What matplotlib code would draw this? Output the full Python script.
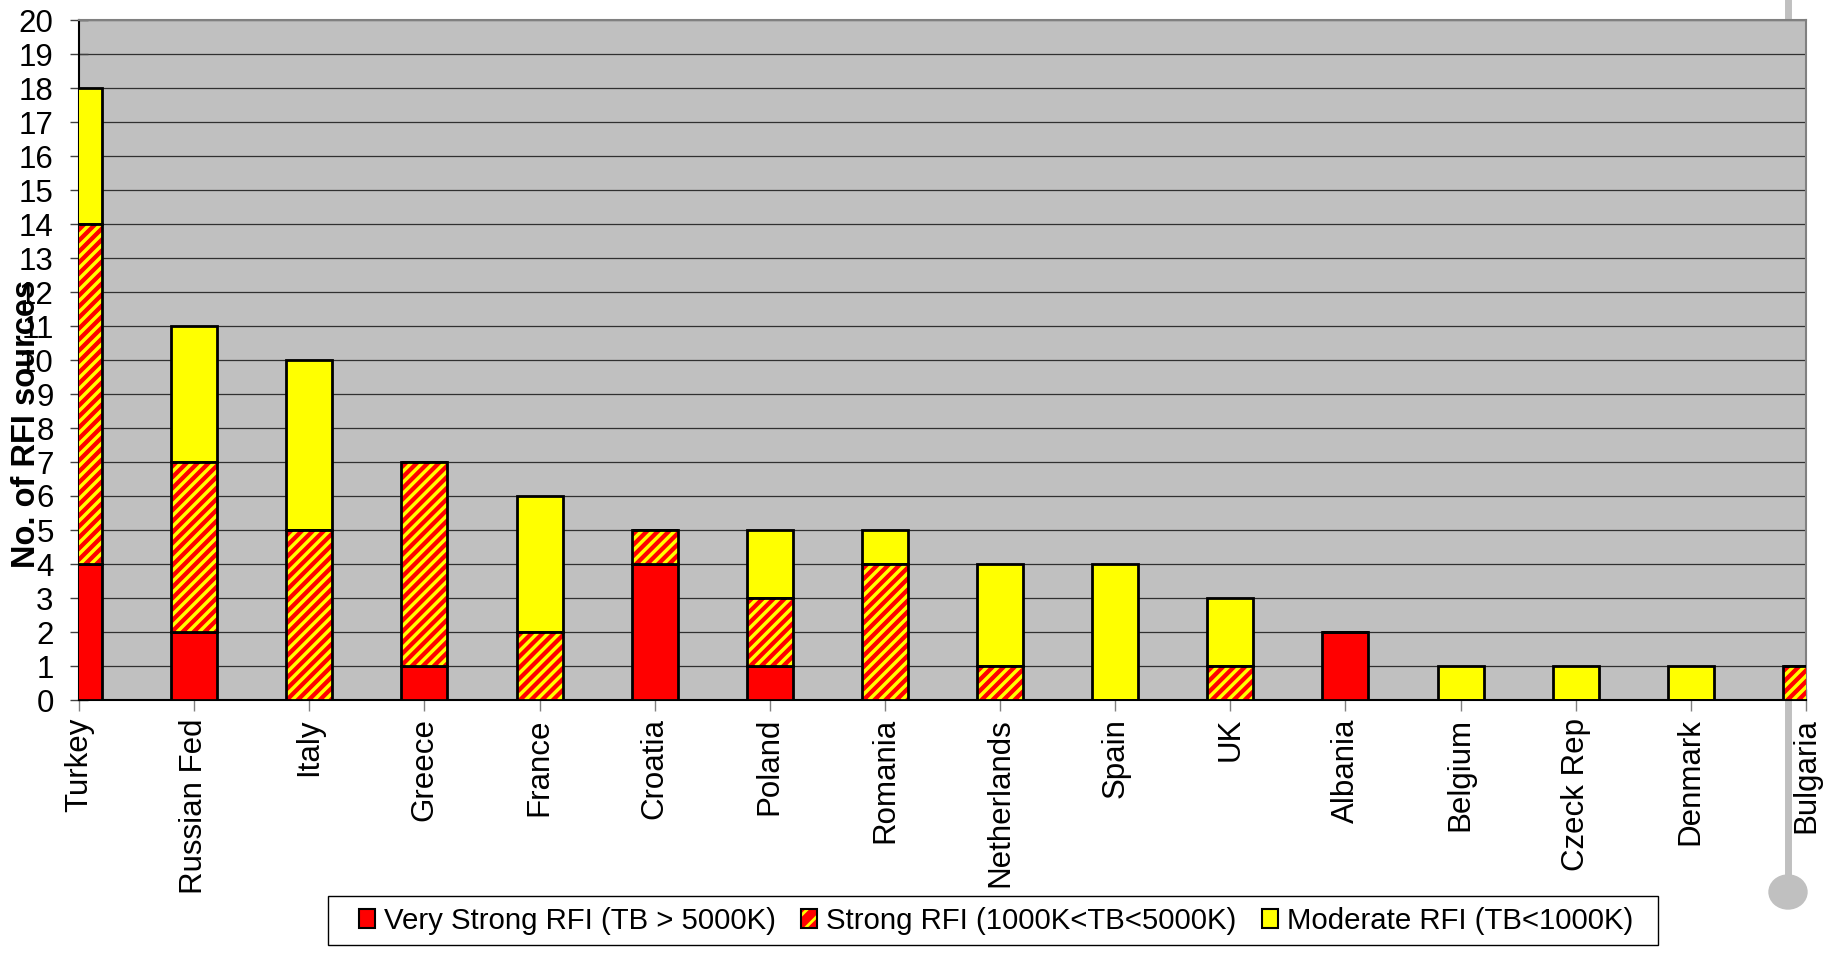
import matplotlib
matplotlib.use("Agg")
import numpy as np
from matplotlib import pyplot as plt
from matplotlib.patches import Patch, Ellipse, Rectangle
from matplotlib.lines import Line2D
from matplotlib.collections import LineCollection

# RFI sources per country, split by strength
countries = ["Turkey", "Russian Fed", "Italy", "Greece", "France", "Croatia",
             "Poland", "Romania", "Netherlands", "Spain", "UK", "Albania",
             "Belgium", "Czeck Rep", "Denmark", "Bulgaria"]
very_strong = [4, 2, 0, 1, 0, 4, 1, 0, 0, 0, 0, 2, 0, 0, 0, 0]
strong = [10, 5, 5, 6, 2, 1, 2, 4, 1, 0, 1, 0, 0, 0, 0, 1]
moderate = [4, 4, 5, 0, 4, 0, 2, 1, 3, 4, 2, 0, 1, 1, 1, 0]
legend_labels = ["Very Strong RFI (TB > 5000K)",
                 "Strong RFI (1000K<TB<5000K)",
                 "Moderate RFI (TB<1000K)"]

RED = "#FF0000"
YELLOW = "#FFFF00"
FONT = "Liberation Sans"
FS = 22.5
STRIPE_PX = 11     # stripe period, pixels
STRIPE_LW = 2.5    # yellow stripe width, points

plt.rcParams["font.family"] = [FONT, "DejaVu Sans"]
plt.rcParams["hatch.linewidth"] = 2.0

W, H = 1829, 976
fig = plt.figure(figsize=(W / 100, H / 100), dpi=100)
ax = fig.add_axes([79 / W, 1 - 700 / H, (1806 - 79) / W, 680 / H])
ax.set_facecolor("#C0C0C0")
xmax = len(countries) - 1
ax.set_xlim(0, xmax)
ax.set_ylim(0, 20)

x = np.arange(len(countries))
vs = np.array(very_strong)
st = np.array(strong)
md = np.array(moderate)
bw = 0.4

ax.bar(x, vs, bw, color=RED, edgecolor="black", linewidth=2, zorder=3)
ax.bar(x, st, bw, bottom=vs, color=RED, linewidth=0, zorder=3)
ax.bar(x, st, bw, bottom=vs, fill=False, edgecolor="black", linewidth=2, zorder=4)
ax.bar(x, md, bw, bottom=vs + st, color=YELLOW, edgecolor="black",
       linewidth=2, zorder=3)

# yellow diagonal stripes on the "strong" segments (45 deg on screen)
bb = ax.get_window_extent()
sx = bb.width / xmax
sy = bb.height / 20
for xi, b, h in zip(x, vs, st):
    if h == 0:
        continue
    left = max(xi - bw / 2, 0)
    right = min(xi + bw / 2, xmax)
    x0, x1 = left * sx, right * sx
    y0, y1 = b * sy, (b + h) * sy
    ks = np.arange(x0 - y1 - STRIPE_PX, x1 - y0 + STRIPE_PX, STRIPE_PX)
    segs = [[((k + y0) / sx, b), ((k + y1) / sx, b + h)] for k in ks]
    lc = LineCollection(segs, colors=YELLOW, linewidths=STRIPE_LW, zorder=3.5)
    ax.add_collection(lc, autolim=False)
    lc.set_clip_path(Rectangle((left, b), right - left, h, transform=ax.transData))

ax.set_yticks(range(0, 21))
ax.yaxis.grid(True, color="#303030", linewidth=0.9)
ax.set_axisbelow(True)

ax.set_xticks(x)
ax.set_xticklabels(countries, rotation=90, fontsize=FS)
ax.tick_params(axis="x", direction="inout", length=16, color="#808080",
               width=1, pad=5)
ax.tick_params(axis="y", direction="inout", length=12.5, color="#404040",
               width=1, labelsize=FS, pad=12)

ax.spines["left"].set_color("black")
ax.spines["bottom"].set_color("black")
ax.spines["top"].set_color("#808080")
ax.spines["right"].set_color("#808080")
for s in ax.spines.values():
    s.set_linewidth(1.5)

fig.text(27 / W, 1 - 424 / H, "No. of RFI sources", rotation=90,
         ha="center", va="center", fontsize=23.5, fontweight="bold")

# grey pole with round foot on the right
fig.add_artist(Line2D([1788 / W, 1788 / W], [1.0, 1 - 892 / H],
                      color="#C0C0C0", linewidth=5, zorder=-1))
fig.add_artist(Ellipse((1788 / W, 1 - 892 / H), 38 / W, 34 / H,
                       color="#C0C0C0", zorder=-1))

# legend box
fig.add_artist(Rectangle((328 / W, 1 - 945 / H), (1658 - 328) / W, 49 / H,
                         facecolor="white", edgecolor="black", linewidth=1))
handles = [Patch(facecolor=RED, edgecolor="black", linewidth=1.5),
           (Patch(facecolor=RED, edgecolor=YELLOW, hatch="//", linewidth=0),
            Patch(fill=False, edgecolor="black", linewidth=1.5)),
           Patch(facecolor=YELLOW, edgecolor="black", linewidth=1.5)]
leg = fig.legend(handles, legend_labels, loc="center",
                 bbox_to_anchor=(996 / W, 1 - 921 / H), ncol=3,
                 fontsize=21.2, frameon=False,
                 handlelength=0.55, handleheight=0.65,
                 handletextpad=0.3, columnspacing=0.85, borderpad=0.35)

fig.savefig("out.png", dpi=100, facecolor="white")
